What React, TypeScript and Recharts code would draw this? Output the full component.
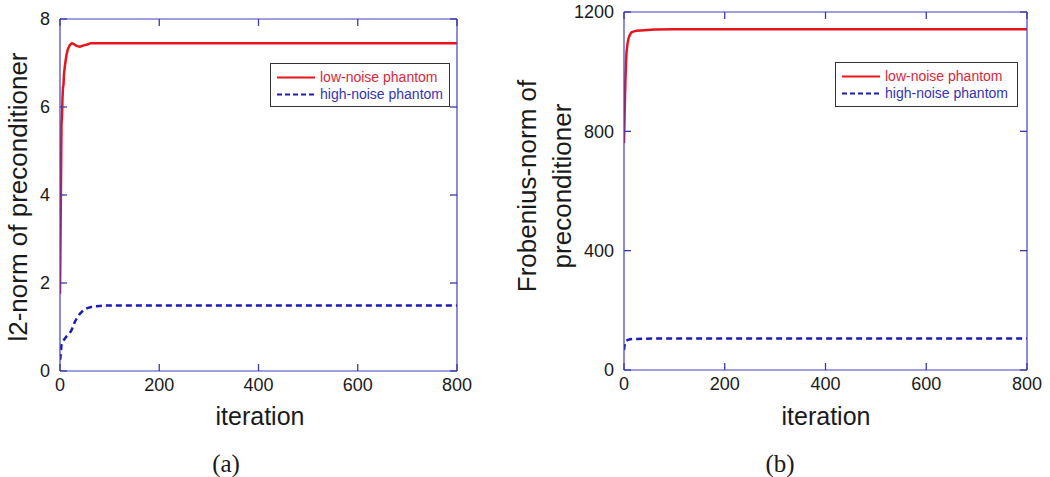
import React from 'react';
import { LineChart, Line, XAxis, YAxis } from 'recharts';

// ---- data ----
const iterationTicks = [0, 200, 400, 600, 800];
const l2Ticks = [0, 2, 4, 6, 8];
const froTicks = [0, 400, 800, 1200];
const seriesNames = ['low-noise phantom', 'high-noise phantom'];

// panel (a): l2-norm of preconditioner
const l2Low: [number, number][] = [
  [0, 1.75], [1, 3.0], [2, 4.3], [3, 5.6], [4, 5.8], [5, 6.2], [6, 6.45], [7, 6.5], [8, 6.75],
  [10, 6.95], [13, 7.18], [16, 7.32], [20, 7.41], [24, 7.45], [28, 7.43], [33, 7.39],
  [40, 7.37], [48, 7.4], [55, 7.42], [62, 7.45], [100, 7.45], [800, 7.45],
];
const l2High: [number, number][] = [
  [0, 0.25], [1, 0.33], [2, 0.45], [3, 0.6], [6, 0.68], [10, 0.74], [14, 0.8], [18, 0.85],
  [22, 0.9], [26, 1.0], [30, 1.12], [35, 1.22], [40, 1.3], [47, 1.38], [55, 1.43],
  [67, 1.47], [80, 1.48], [100, 1.49], [800, 1.49],
];

// panel (b): Frobenius-norm of preconditioner
const froLow: [number, number][] = [
  [0, 760], [1, 840], [2, 916], [3, 980], [4, 1028], [5, 1065], [7, 1095], [9, 1112],
  [12, 1125], [15, 1132], [20, 1135], [25, 1137], [40, 1139], [61, 1141], [100, 1142], [800, 1142],
];
const froHigh: [number, number][] = [
  [0, 67], [1, 80], [2, 92], [4, 98], [8, 101], [12, 103], [20, 104], [40, 105], [100, 106], [800, 106],
];

const toRows = (pts: [number, number][]) => pts.map(([x, y]) => ({ x, y }));

const AXIS = '#4040c0';
const RED = '#e8141c';
const BLUE = '#1a1ab4';
const SANS = '"Liberation Sans", Arial, sans-serif';
const H = 477;
const TICK_LEN = 7;

type Side = 'bottom' | 'top' | 'left' | 'right';

// tick renderer: inward tick mark at the library-computed coordinate, plus label where needed
const makeTick = (side: Side, edge: number, label: boolean) => (props: any) => {
  const c: number = props?.payload?.coordinate ?? 0;
  const value = props?.payload?.value;
  const tl = { stroke: '#3a3aa8', strokeWidth: 1.3 };
  let line: React.ReactNode = null;
  let text: React.ReactNode = null;
  if (side === 'bottom') {
    line = <line x1={c} x2={c} y1={edge} y2={edge - TICK_LEN} {...tl} />;
    if (label)
      text = (
        <text x={c} y={edge + 7} dy="0.72em" textAnchor="middle" fontSize={18} fontFamily={SANS} fill="#1a1a1a">
          {value}
        </text>
      );
  } else if (side === 'top') {
    line = <line x1={c} x2={c} y1={edge} y2={edge + TICK_LEN} {...tl} />;
  } else if (side === 'left') {
    line = <line x1={edge} x2={edge + TICK_LEN} y1={c} y2={c} {...tl} />;
    if (label)
      text = (
        <text x={edge - 10} y={c} dy="0.35em" textAnchor="end" fontSize={18} fontFamily={SANS} fill="#1a1a1a">
          {value}
        </text>
      );
  } else {
    line = <line x1={edge} x2={edge - TICK_LEN} y1={c} y2={c} {...tl} />;
  }
  return (
    <g>
      {line}
      {text}
    </g>
  );
};

type PanelProps = {
  left: number;
  width: number;
  plotLeft: number;
  plotRight: number;
  plotTop: number;
  plotBottom: number;
  yTicks: number[];
  yDomain: [number, number];
  low: [number, number][];
  high: [number, number][];
};

function Panel(p: PanelProps) {
  const yAxisW = p.plotLeft - p.left;
  const margin = {
    top: p.plotTop - 1,
    right: p.left + p.width - p.plotRight - 1,
    bottom: H - p.plotBottom - 30,
    left: 0,
  };
  const L = p.plotLeft - p.left;
  const R = p.plotRight - p.left;
  const axisLine = { stroke: AXIS, strokeWidth: 1.2 };
  return (
    <div style={{ position: 'absolute', left: p.left, top: 0 }}>
      <LineChart width={p.width} height={H} margin={margin}>
        <XAxis
          xAxisId="b"
          type="number"
          dataKey="x"
          domain={[0, 800]}
          ticks={iterationTicks}
          allowDataOverflow
          orientation="bottom"
          height={30}
          tickLine={false}
          tick={makeTick('bottom', p.plotBottom, true)}
          axisLine={axisLine}
        />
        <XAxis
          xAxisId="t"
          type="number"
          dataKey="x"
          domain={[0, 800]}
          ticks={iterationTicks}
          allowDataOverflow
          orientation="top"
          height={1}
          tickLine={false}
          tick={makeTick('top', p.plotTop, false)}
          axisLine={axisLine}
        />
        <YAxis
          yAxisId="l"
          type="number"
          domain={p.yDomain}
          ticks={p.yTicks}
          allowDataOverflow
          orientation="left"
          width={yAxisW}
          tickLine={false}
          tick={makeTick('left', L, true)}
          axisLine={axisLine}
        />
        <YAxis
          yAxisId="r"
          type="number"
          domain={p.yDomain}
          ticks={p.yTicks}
          allowDataOverflow
          orientation="right"
          width={1}
          tickLine={false}
          tick={makeTick('right', R, false)}
          axisLine={axisLine}
        />
        <Line
          name={seriesNames[1]}
          data={toRows(p.high)}
          dataKey="y"
          xAxisId="b"
          yAxisId="l"
          type="linear"
          dot={false}
          stroke={BLUE}
          strokeWidth={2.5}
          strokeDasharray="6 4"
          isAnimationActive={false}
        />
        <Line
          name={seriesNames[0]}
          data={toRows(p.low)}
          dataKey="y"
          xAxisId="b"
          yAxisId="l"
          type="linear"
          dot={false}
          stroke={RED}
          strokeWidth={2.5}
          isAnimationActive={false}
        />
      </LineChart>
    </div>
  );
}

function LegendBox({ left, top, width, height }: { left: number; top: number; width: number; height: number }) {
  const rows = [
    { name: seriesNames[0], color: RED, text: '#d8283a', dash: undefined as string | undefined, y: 14.5 },
    { name: seriesNames[1], color: BLUE, text: '#3434b8', dash: '5 3', y: 31.5 },
  ];
  return (
    <div
      style={{
        position: 'absolute',
        left,
        top,
        width,
        height,
        border: '1.3px solid #333',
        background: '#fff',
        boxSizing: 'border-box',
      }}
    >
      <svg width={width} height={height} style={{ position: 'absolute', left: -1, top: -1 }}>
        {rows.map((r) => (
          <g key={r.name}>
            <line x1={7} x2={45} y1={r.y} y2={r.y} stroke={r.color} strokeWidth={2} strokeDasharray={r.dash} />
            <text x={50} y={r.y} dy="0.35em" fontSize={14} fontFamily={SANS} fill={r.text}>
              {r.name}
            </text>
          </g>
        ))}
      </svg>
    </div>
  );
}

const labelStyle: React.CSSProperties = {
  position: 'absolute',
  transform: 'translate(-50%, -50%) rotate(-90deg)',
  whiteSpace: 'nowrap',
  fontFamily: SANS,
  fontSize: 26,
  color: '#1a1a1a',
  lineHeight: '35px',
  textAlign: 'center',
};

const xLabelStyle: React.CSSProperties = {
  position: 'absolute',
  transform: 'translate(-50%, -50%)',
  whiteSpace: 'nowrap',
  fontFamily: SANS,
  fontSize: 25,
  color: '#1a1a1a',
};

const capStyle: React.CSSProperties = {
  position: 'absolute',
  transform: 'translate(-50%, -50%)',
  whiteSpace: 'nowrap',
  fontFamily: '"Liberation Serif", "DejaVu Serif", serif',
  fontSize: 25,
  color: '#1a1a1a',
};

export default function App() {
  return (
    <div style={{ position: 'absolute', left: 0, top: 0, width: 1050, height: H, background: '#fff', overflow: 'hidden' }}>
      <Panel
        left={0}
        width={520}
        plotLeft={60}
        plotRight={457}
        plotTop={19}
        plotBottom={371}
        yTicks={l2Ticks}
        yDomain={[0, 8]}
        low={l2Low}
        high={l2High}
      />
      <Panel
        left={520}
        width={530}
        plotLeft={624}
        plotRight={1027}
        plotTop={12}
        plotBottom={370}
        yTicks={froTicks}
        yDomain={[0, 1200]}
        low={froLow}
        high={froHigh}
      />
      <LegendBox left={270} top={63} width={180} height={44} />
      <LegendBox left={835} top={62} width={183} height={45} />
      <div style={{ ...labelStyle, left: 18, top: 197 }}>l2-norm of preconditioner</div>
      <div style={{ ...labelStyle, left: 545, top: 186 }}>
        Frobenius-norm of
        <br />
        preconditioner
      </div>
      <div style={{ ...xLabelStyle, left: 260, top: 416 }}>iteration</div>
      <div style={{ ...xLabelStyle, left: 826, top: 416 }}>iteration</div>
      <div style={{ ...capStyle, left: 226, top: 464 }}>(a)</div>
      <div style={{ ...capStyle, left: 780, top: 464 }}>(b)</div>
    </div>
  );
}
